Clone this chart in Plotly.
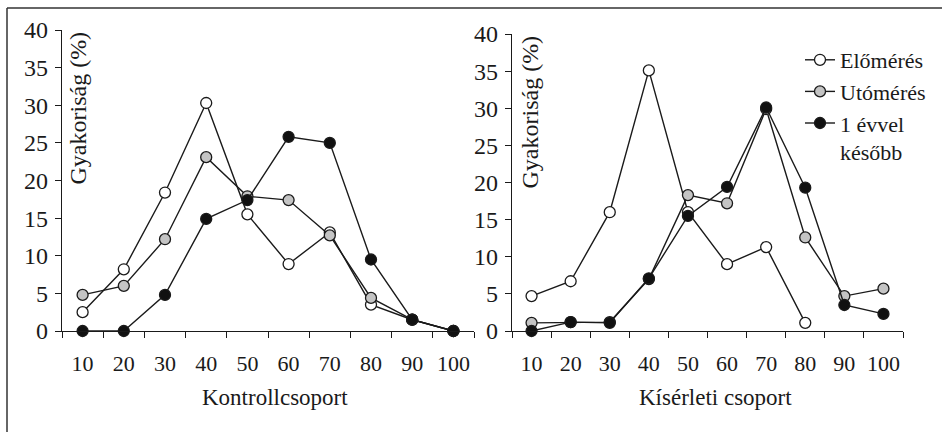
import plotly.graph_objects as go

# Score bands (x categories)
bands = ["10", "20", "30", "40", "50", "60", "70", "80", "90", "100"]

# Kontrollcsoport – frequency (%)
ctrl_pre = [2.5, 8.2, 18.4, 30.3, 15.5, 8.9, 13.1, 3.5, 1.5, 0.0]
ctrl_post = [4.8, 6.0, 12.2, 23.1, 17.9, 17.4, 12.7, 4.4, 1.5, 0.0]
ctrl_later = [0.0, 0.0, 4.8, 14.9, 17.4, 25.8, 25.0, 9.5, 1.5, 0.0]

# Kísérleti csoport – frequency (%)
exp_pre = [4.7, 6.7, 16.0, 35.1, 16.0, 9.0, 11.3, 1.1, None, None]
exp_post = [1.1, 1.2, 1.2, 7.0, 18.3, 17.2, 29.9, 12.6, 4.7, 5.7]
exp_later = [0.0, 1.2, 1.1, 7.1, 15.5, 19.4, 30.1, 19.3, 3.5, 2.3]

series_names = ["Előmérés", "Utómérés", "1 évvel<br>később"]
fill_colors = ["#ffffff", "#c4c4c4", "#111111"]

W, H = 942, 432
SERIF = "Liberation Serif, Times New Roman, serif"
INK = "#1a1a1a"
FS = 23

fig = go.Figure()

groups = [
    ([ctrl_pre, ctrl_post, ctrl_later], "x", "y", False),
    ([exp_pre, exp_post, exp_later], "x2", "y2", True),
]
for values, xa, ya, legend in groups:
    for vals, name, fc in zip(values, series_names, fill_colors):
        fig.add_trace(go.Scatter(
            x=bands, y=vals, xaxis=xa, yaxis=ya, name=name,
            mode="lines+markers", showlegend=legend, cliponaxis=False,
            connectgaps=False,
            line=dict(color=INK, width=1.4),
            marker=dict(size=11, color=fc, line=dict(color=INK, width=1.3)),
        ))


def px_x(p):
    return p / W


def px_y(p):
    return 1 - p / H


xaxis_common = dict(
    type="category", range=[-0.5, 9.5], tickson="boundaries",
    ticks="outside", ticklen=6, tickwidth=1.3, tickcolor=INK,
    showline=True, linecolor=INK, linewidth=1.3, showgrid=False,
    zeroline=False, ticklabelstandoff=12, automargin=False, tickangle=0,
    tickfont=dict(family=SERIF, size=FS - 1, color=INK),
)
yaxis_common = dict(
    range=[0, 40], dtick=5, ticks="outside", ticklen=6, tickwidth=1.3,
    tickcolor=INK, showline=True, linecolor=INK, linewidth=1.3,
    showgrid=False, zeroline=False, ticklabelstandoff=2, automargin=False,
    tickfont=dict(family=SERIF, size=FS + 1, color=INK),
)

fig.update_layout(
    width=W, height=H,
    margin=dict(l=0, r=0, t=0, b=0, autoexpand=False),
    paper_bgcolor="white", plot_bgcolor="white",
    font=dict(family=SERIF, color=INK),
    xaxis=dict(domain=[px_x(62), px_x(474)], anchor="y", **xaxis_common),
    yaxis=dict(domain=[px_y(331), px_y(30)], anchor="x", **yaxis_common),
    xaxis2=dict(domain=[px_x(512), px_x(903)], anchor="y2", **xaxis_common),
    yaxis2=dict(domain=[px_y(331), px_y(34)], anchor="x2", **yaxis_common),
    legend=dict(
        x=px_x(800), y=px_y(39), xanchor="left", yanchor="top",
        font=dict(family=SERIF, size=FS - 1, color=INK),
        bgcolor="rgba(0,0,0,0)", valign="top", tracegroupgap=0,
    ),
    showlegend=True,
)

# Outer frame (top and left edges visible)
fig.add_shape(type="line", xref="paper", yref="paper",
              x0=px_x(7), y0=px_y(8), x1=1.0, y1=px_y(8),
              line=dict(color="#333333", width=1.5))
fig.add_shape(type="line", xref="paper", yref="paper",
              x0=px_x(7), y0=px_y(8), x1=px_x(7), y1=0.0,
              line=dict(color="#333333", width=1.5))

# Axis titles
for text, cx in [("Kontrollcsoport", 275), ("Kísérleti csoport", 715)]:
    fig.add_annotation(text=text, xref="paper", yref="paper",
                       x=px_x(cx), y=px_y(397), xanchor="center", yanchor="middle",
                       showarrow=False, font=dict(family=SERIF, size=FS, color=INK))
for cx, top in [(78, 30), (529, 34)]:
    fig.add_annotation(text="Gyakoriság (%)", xref="paper", yref="paper",
                       x=px_x(cx), y=px_y(top), xanchor="center", yanchor="top",
                       textangle=-90, showarrow=False,
                       font=dict(family=SERIF, size=FS + 1, color=INK))

fig.write_html("out.html")
